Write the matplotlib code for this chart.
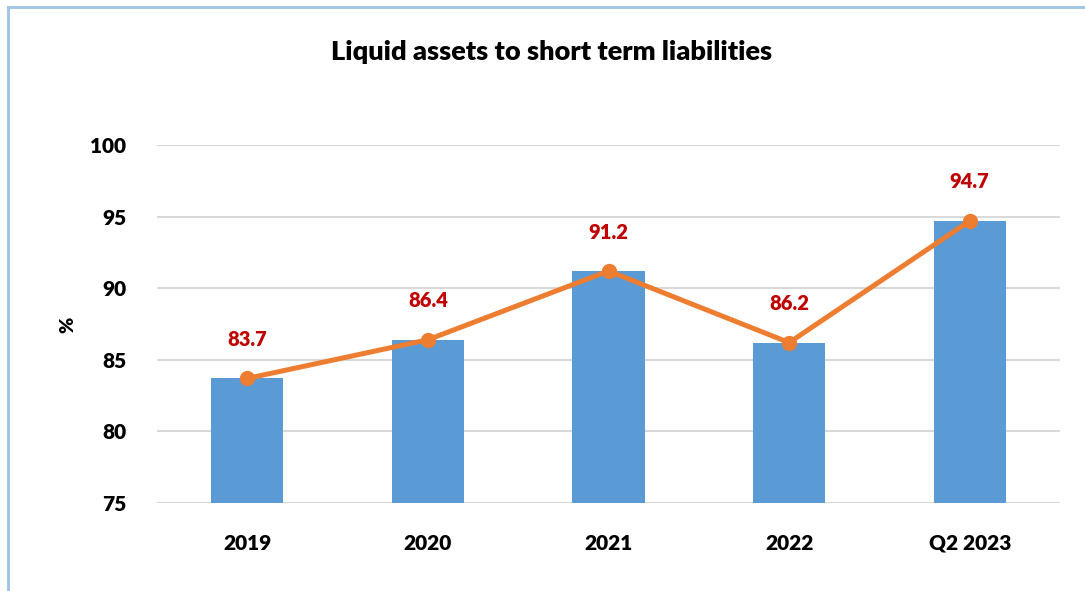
import matplotlib.pyplot as plt
import numpy as np

categories = ["2019", "2020", "2021", "2022", "Q2 2023"]
ratio = [83.7, 86.4, 91.2, 86.2, 94.7]
y_ticks = [75, 80, 85, 90, 95, 100]

plt.rcParams["font.family"] = ["Lato", "DejaVu Sans"]

fig = plt.figure(figsize=(10.85, 5.91), dpi=100)
ax = fig.add_axes([0.1447, 0.1489, 0.8323, 0.6058])

x = np.arange(len(categories))
ax.bar(x, ratio, width=0.4, bottom=0, color="#5B9BD5", zorder=2)
ax.plot(x, ratio, color="#ED7D31", linewidth=3.6, marker="o", markersize=10,
        zorder=3)

for xi, v in zip(x, ratio):
    ax.annotate(f"{v:.1f}", xy=(xi, v), xytext=(0, 28), textcoords="offset points",
                ha="center", va="center", fontsize=14.5, fontweight="heavy",
                color="#C00000")

ax.set_xlim(-0.5, len(categories) - 0.5)
ax.set_ylim(75, 100)
ax.set_yticks(y_ticks)
ax.set_xticks(x)
ax.set_xticklabels(categories)
ax.tick_params(axis="both", length=0, labelsize=15)
ax.tick_params(axis="y", pad=22)
ax.tick_params(axis="x", pad=22)
for lbl in ax.get_xticklabels() + ax.get_yticklabels():
    lbl.set_fontweight("heavy")
ax.yaxis.grid(True, color="#D9D9D9", linewidth=1.5, zorder=0)
ax.set_axisbelow(True)
for s in ax.spines.values():
    s.set_visible(False)

fig.text(0.063, 0.45, "%", rotation=90, ha="center", va="center", fontsize=14,
         fontweight="heavy")
fig.text(0.508, 0.912, "Liquid assets to short term liabilities", ha="center",
         va="center", fontsize=19.5, fontweight="heavy")

# chart frame (left and top edges)
fig.add_artist(plt.Line2D([0.0078, 0.0078], [0, 0.988], color="#9DC3E6",
                          linewidth=2, transform=fig.transFigure))
fig.add_artist(plt.Line2D([0.0078, 1], [0.988, 0.988], color="#9DC3E6",
                          linewidth=2, transform=fig.transFigure))

fig.savefig("out.png", dpi=100, facecolor="white")
